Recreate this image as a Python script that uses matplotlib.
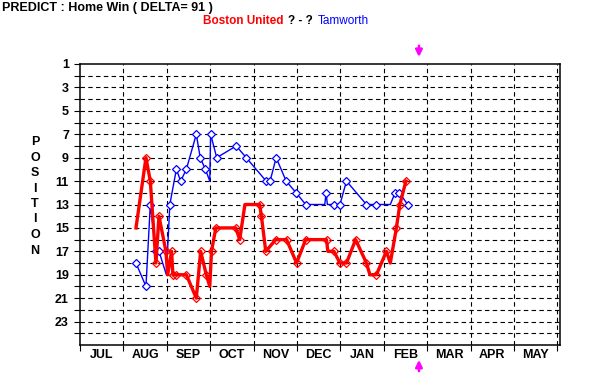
import matplotlib.pyplot as plt
from matplotlib.ticker import FixedLocator

# months since 1 July and league position
boston_x = [1.29, 1.52, 1.62, 1.75, 1.82, 1.98, 2.02, 2.11, 2.14, 2.22, 2.45, 2.68, 2.78,
            2.91, 2.99, 3.03, 3.13, 3.59, 3.68, 3.80, 4.14, 4.18, 4.28, 4.51, 4.76, 4.99,
            5.20, 5.68, 5.71, 5.85, 5.99, 6.14, 6.35, 6.60, 6.68, 6.83, 7.06, 7.15, 7.29,
            7.37, 7.51]
boston_pos = [15, 9, 11, 18, 14, 17, 19, 17, 19, 19, 19, 21, 17,
              19, 20, 17, 15, 15, 16, 13, 13, 14, 17, 16, 16, 18,
              16, 16, 17, 17, 18, 18, 16, 18, 19, 19, 17, 18, 15,
              13, 11]
boston_nomark = [0, 6, 14, 19, 28, 34, 37]

tam_x = [1.29, 1.52, 1.62, 1.75, 1.82, 1.99, 2.07, 2.22, 2.32, 2.45, 2.68, 2.77, 2.89,
         2.99, 3.01, 3.15, 3.60, 3.83, 4.29, 4.38, 4.52, 4.75, 4.98, 5.20, 5.64, 5.67,
         5.70, 5.85, 5.99, 6.14, 6.60, 6.83, 7.15, 7.26, 7.36, 7.55]
tam_pos = [18, 20, 13, 17, 17, 19, 13, 10, 11, 10, 7, 9, 10,
           11, 7, 9, 8, 9, 11, 11, 9, 11, 12, 13, 13, 12,
           13, 13, 13, 11, 13, 13, 13, 12, 12, 13]
tam_nomark = [5, 13, 24, 26, 32]

months = ["JUL", "AUG", "SEP", "OCT", "NOV", "DEC", "JAN", "FEB", "MAR", "APR", "MAY"]
now_x = 7.81

plt.rcParams['font.family'] = ['Liberation Sans', 'DejaVu Sans']

fig = plt.figure(figsize=(6.08, 3.85), dpi=100)
ax = fig.add_axes([80 / 608, 1 - 345 / 385, 480 / 608, 281 / 385])

ax.set_xlim(0, 11.06)
ax.set_ylim(25, 1)

# dashed grid
for p in range(2, 25):
    ax.axhline(p, color='black', lw=0.8, ls=(0, (4, 3)), zorder=1)
for m in range(1, 12):
    ax.axvline(m, color='black', lw=0.8, ls=(0, (4, 3)), zorder=1)

b_mark = [i for i in range(len(boston_x)) if i not in boston_nomark]
t_mark = [i for i in range(len(tam_x)) if i not in tam_nomark]

ax.plot(tam_x, tam_pos, color='blue', lw=1, marker='D', ms=4.5, mfc='white',
        mec='blue', mew=0.9, markevery=t_mark, zorder=3)
ax.plot(boston_x, boston_pos, color='red', lw=2.4, marker='D', ms=4.5, mfc='none',
        mec='red', mew=0.9, markevery=b_mark, zorder=4)

# axes and ticks
for s in ax.spines.values():
    s.set_linewidth(1.1)
ax.yaxis.set_major_locator(FixedLocator(range(1, 24, 2)))
ax.yaxis.set_minor_locator(FixedLocator(range(2, 25, 2)))
ax.tick_params(axis='y', which='both', length=4, width=0.8, pad=4, labelsize=9)
for t in ax.get_yticklabels():
    t.set_fontweight('bold')

ax.xaxis.set_major_locator(FixedLocator([i + 0.5 for i in range(11)]))
ax.set_xticklabels(months, fontweight='bold', fontsize=9)
ax.xaxis.set_minor_locator(FixedLocator(range(0, 12)))
ax.tick_params(axis='x', which='major', length=0, pad=3)
ax.tick_params(axis='x', which='minor', length=4, width=0.8)

# vertical POSITION label
for i, ch in enumerate("POSITION"):
    fig.text(35 / 608, 1 - (142 + i * 15.5) / 385, ch, fontsize=9, fontweight='bold',
             ha='center', va='center')

# titles
fig.text(2 / 608, 1 - 8 / 385, "PREDICT : Home Win ( DELTA= 91 )", fontsize=9,
         fontweight='bold', ha='left', va='center')
fig.text(203 / 608, 1 - 21 / 385, "Boston United", color='red', fontsize=8.5,
         fontweight='bold', ha='left', va='center')
fig.text(288 / 608, 1 - 21 / 385, "? - ?", color='black', fontsize=8.5,
         fontweight='bold', ha='left', va='center')
fig.text(318 / 608, 1 - 21 / 385, "Tamworth", color='blue', fontsize=8.5,
         ha='left', va='center')

# current date arrows
arr = dict(arrowstyle='-|>', color='magenta', lw=1.8, mutation_scale=10,
           shrinkA=0, shrinkB=0)
ax.annotate('', xy=(now_x, 1.025), xytext=(now_x, 1.065),
            xycoords=ax.get_xaxis_transform(), textcoords=ax.get_xaxis_transform(),
            arrowprops=arr, annotation_clip=False)
ax.annotate('', xy=(now_x, -0.053), xytext=(now_x, -0.093),
            xycoords=ax.get_xaxis_transform(), textcoords=ax.get_xaxis_transform(),
            arrowprops=arr, annotation_clip=False)

fig.savefig("out.png", dpi=100)
